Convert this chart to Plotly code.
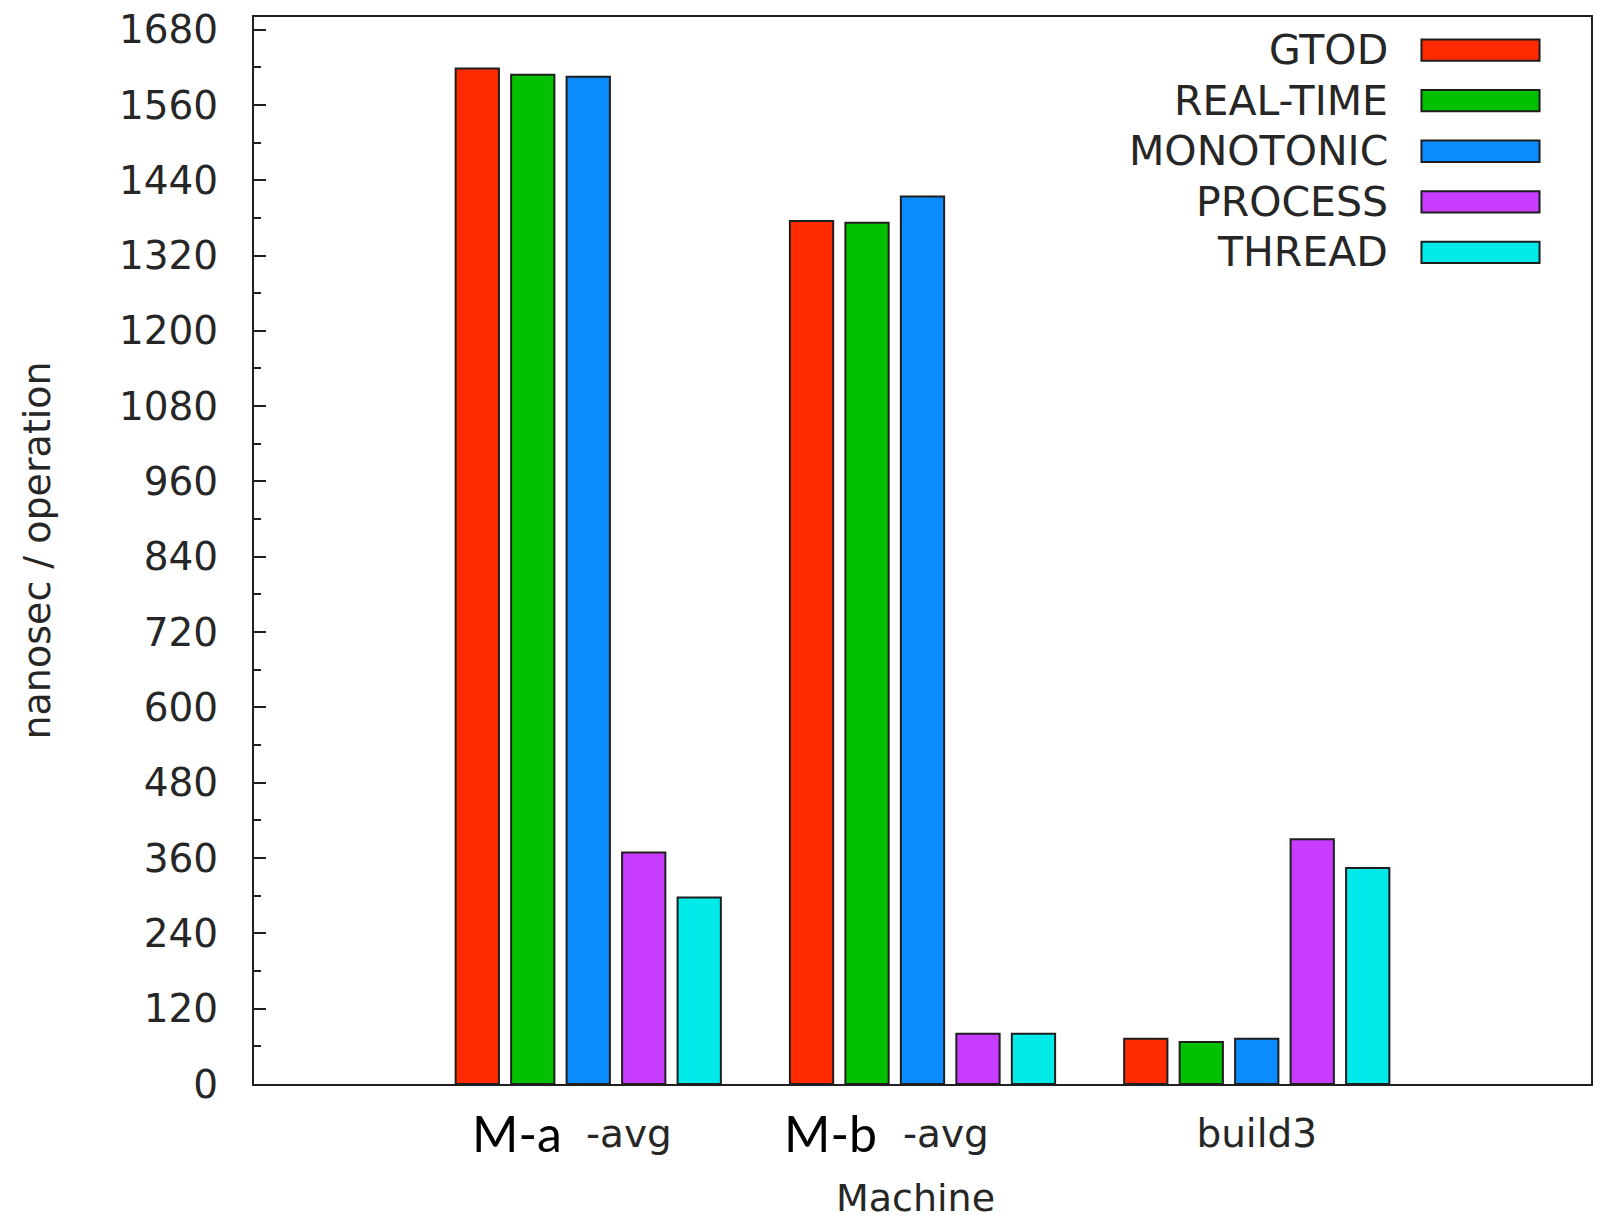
import plotly.graph_objects as go

# ---- data ----
categories = [0, 1, 2]
series_names = ["GTOD", "REAL-TIME", "MONOTONIC", "PROCESS", "THREAD"]
gtod = [1618, 1375, 72]
real_time = [1608, 1372, 67]
monotonic = [1605, 1414, 72]
process = [369, 80, 390]
thread = [297, 80, 344]
tick_labels = ["", "", "build3"]
overlay_labels = ["M-a", "M-b"]
suffix_labels = ["-avg", "-avg"]
x_title = "Machine"
y_title = "nanosec / operation"

series_values = [gtod, real_time, monotonic, process, thread]
colors = ["#ff2a00", "#00c000", "#0a8cff", "#c83cff", "#00eaea"]
outline = "#1e1e1e"

FONT = "DejaVu Sans"
TXT = "#262626"

fig = go.Figure()
for name, vals, col in zip(series_names, series_values, colors):
    fig.add_trace(go.Bar(
        x=categories, y=vals, name=name,
        marker=dict(color=col, line=dict(color=outline, width=2)),
        showlegend=False,
    ))

# custom gnuplot-style key (text right, swatch left)
key_y0 = 0.9690
key_dy = 0.0474
for i, (name, col) in enumerate(zip(series_names, colors)):
    yc = key_y0 - i * key_dy
    fig.add_shape(type="rect", xref="paper", yref="paper",
                  x0=0.8732, x1=0.9615, y0=yc - 0.0100, y1=yc + 0.0100,
                  fillcolor=col, line=dict(color=outline, width=2))
    fig.add_annotation(xref="paper", yref="paper", x=0.8500, y=yc,
                       xanchor="right", yanchor="middle", text=name,
                       showarrow=False, font=dict(family=FONT, size=41, color=TXT))

# x labels for the first two groups (overlay + suffix)
ov_x = [-0.212, 0.7245]
suf_x = [0.256, 1.205]
for lab, sx, ox, sfx in zip(overlay_labels, suf_x, ov_x, suffix_labels):
    fig.add_annotation(xref="x", yref="paper", x=sx, y=-0.046,
                       xanchor="right", yanchor="middle", text=sfx,
                       showarrow=False, font=dict(family=FONT, size=39, color=TXT))
    fig.add_annotation(xref="x", yref="paper", x=ox, y=-0.046,
                       xanchor="center", yanchor="middle", text=lab,
                       showarrow=False, font=dict(family="Lato", size=50, color="#000000"))

# axis titles
fig.add_annotation(xref="paper", yref="paper", x=0.4944, y=0, yshift=-114,
                   xanchor="center", yanchor="middle", text=x_title,
                   showarrow=False, font=dict(family=FONT, size=38, color=TXT))
fig.add_annotation(xref="paper", yref="paper", x=0, y=0.5, xshift=-218,
                   xanchor="center", yanchor="middle", text=y_title, textangle=-90,
                   showarrow=False, font=dict(family=FONT, size=38, color=TXT))

fig.update_layout(
    width=1591, height=1216,
    margin=dict(l=246, r=8, t=9, b=140),
    paper_bgcolor="white", plot_bgcolor="white",
    barmode="group", bargap=0.17, bargroupgap=0.22,
    font=dict(family=FONT, size=38, color=TXT),
    xaxis=dict(
        range=[-1, 3], tickvals=categories, ticktext=tick_labels,
        showline=True, linecolor="#202020", linewidth=2, mirror=True,
        ticks="", showgrid=False, zeroline=False, automargin=False,
        tickfont=dict(family=FONT, size=39, color=TXT),
        ticklabelstandoff=14,
    ),
    yaxis=dict(
        range=[0, 1700], tick0=0, dtick=120,
        showline=True, linecolor="#202020", linewidth=2, mirror=True,
        ticks="inside", ticklen=12, tickwidth=2, tickcolor="#202020",
        minor=dict(dtick=60, ticks="inside", ticklen=7, tickwidth=2, tickcolor="#202020"),
        showgrid=False, zeroline=False, automargin=False,
        ticklabeloverflow="allow",
        tickfont=dict(family=FONT, size=39, color=TXT),
        ticklabelstandoff=26,
    ),
)

fig.write_html("out.html")
